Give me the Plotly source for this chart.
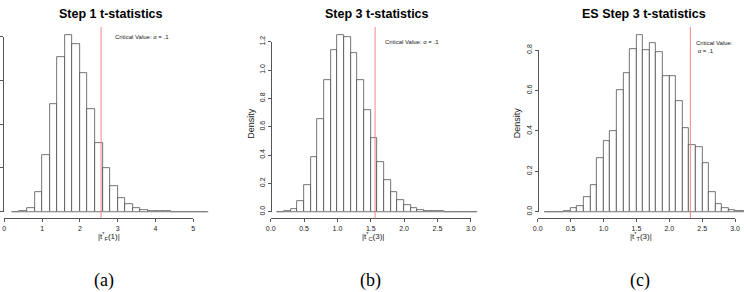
import plotly.graph_objects as go

W, H = 744, 292

# ---------------- data ----------------
# Panel (a) Step 1 t-statistics: density histogram, bins of width 0.2 starting at 0.2
a_bin_start = 0.2
a_bin_width = 0.2
a_density = [0.0, 0.003, 0.018, 0.088, 0.259, 0.491, 0.706, 0.808, 0.768, 0.632,
             0.468, 0.312, 0.198, 0.117, 0.064, 0.035, 0.018, 0.008, 0.003, 0.0015,
             0.001, 0.0005, 0.0003, 0.0, 0.0, 0.0]
a_crit = 2.56
a_xticks = [0, 1, 2, 3, 4, 5]
a_xticklabels = ["0", "1", "2", "3", "4", "5"]
a_yticks = [0, 0.2, 0.4, 0.6, 0.8]
a_yticklabels = ["0.0", "0.2", "0.4", "0.6", "0.8"]

# Panel (b) Step 3 t-statistics: bins of width 0.1 starting at 0.1
b_bin_start = 0.1
b_bin_width = 0.1
b_density = [0.0, 0.004, 0.017, 0.074, 0.187, 0.387, 0.652, 0.93, 1.14, 1.247,
             1.232, 1.118, 0.932, 0.715, 0.518, 0.35, 0.222, 0.137, 0.081, 0.046,
             0.024, 0.012, 0.006, 0.003, 0.002, 0.001, 0.0, 0.0, 0.0, 0.0]
b_crit = 1.565
b_xticks = [0.0, 0.5, 1.0, 1.5, 2.0, 2.5, 3.0]
b_xticklabels = ["0.0", "0.5", "1.0", "1.5", "2.0", "2.5", "3.0"]
b_yticks = [0.0, 0.2, 0.4, 0.6, 0.8, 1.0, 1.2]
b_yticklabels = ["0.0", "0.2", "0.4", "0.6", "0.8", "1.0", "1.2"]

# Panel (c) ES Step 3 t-statistics: bins of width 0.1 starting at 0.1
c_bin_start = 0.1
c_bin_width = 0.1
c_density = [0.0, 0.0, 0.0, 0.003, 0.016, 0.027, 0.071, 0.131, 0.264, 0.352,
             0.402, 0.602, 0.685, 0.807, 0.875, 0.801, 0.837, 0.79, 0.673, 0.671,
             0.547, 0.414, 0.331, 0.318, 0.242, 0.097, 0.038, 0.019, 0.008, 0.005,
             0.002]
c_crit = 2.32
c_xticks = [0.0, 0.5, 1.0, 1.5, 2.0, 2.5, 3.0]
c_xticklabels = ["0.0", "0.5", "1.0", "1.5", "2.0", "2.5", "3.0"]
c_yticks = [0.0, 0.2, 0.4, 0.6, 0.8]
c_yticklabels = ["0.0", "0.2", "0.4", "0.6", "0.8"]

titles = ["Step 1 t-statistics", "Step 3 t-statistics", "ES Step 3 t-statistics"]
xlabels = ["|t<sup>*</sup><sub>F</sub>(1)|", "|t<sup>*</sup><sub>C</sub>(3)|",
           "|t<sup>*</sup><sub>T</sub>(3)|"]
captions = ["(a)", "(b)", "(c)"]
crit_texts = ["Critical Value: \u03b1 = .1", "Critical Value: \u03b1 = .1",
              "Critical Value:<br>\u00a0\u03b1 = .1"]

# ---------------- geometry / style (pixels) ----------------
TOP, BOTTOM = 27.0, 218.3
geo = [
    dict(x0px=4.3, xppu=37.8, y0px=211.7, yppu=218.75, left=3.0, right=218.0,
         title_x=110.6, xlab_x=109, cap_x=104, dens_x=None,
         crit_x=113, crit_y=36.7, show_ylabels=False),
    dict(x0px=270.7, xppu=66.7, y0px=211.7, yppu=141.67, left=271.0, right=482.0,
         title_x=376.7, xlab_x=373, cap_x=370, dens_x=251,
         crit_x=383, crit_y=41.7, show_ylabels=True),
    dict(x0px=537.7, xppu=65.8, y0px=211.7, yppu=202.0, left=537.7, right=744.0,
         title_x=643.5, xlab_x=641, cap_x=640, dens_x=516.7,
         crit_x=694, crit_y=46.5, show_ylabels=True),
]

def fx(px):
    return px / W

def fy(py):
    return 1 - py / H

SANS = "Liberation Sans, Arial, sans-serif"
SERIF = "Liberation Serif, Times New Roman, serif"
BAR_LINE = "#3a3a3a"
BASE_LINE = "#9a9a9a"
AXIS_COL = "#555555"
TEXT_COL = "#1a1a1a"
RED = "rgb(238,120,120)"

panels = [
    (a_bin_start, a_bin_width, a_density, a_crit, a_xticks, a_xticklabels, a_yticks, a_yticklabels),
    (b_bin_start, b_bin_width, b_density, b_crit, b_xticks, b_xticklabels, b_yticks, b_yticklabels),
    (c_bin_start, c_bin_width, c_density, c_crit, c_xticks, c_xticklabels, c_yticks, c_yticklabels),
]

fig = go.Figure()
layout = dict(
    template="none",
    width=W, height=H, margin=dict(l=0, r=0, t=0, b=0),
    paper_bgcolor="white", plot_bgcolor="rgba(0,0,0,0)",
    font=dict(family=SANS, color=TEXT_COL),
    showlegend=False, bargap=0, barmode="overlay",
)
shapes = []
annotations = []

for i, (start, bw, dens, crit, xt, xtl, yt, ytl) in enumerate(panels):
    g = geo[i]
    n = i + 1
    xa = "x" if n == 1 else f"x{n}"
    ya = "y" if n == 1 else f"y{n}"
    xkey = "xaxis" if n == 1 else f"xaxis{n}"
    ykey = "yaxis" if n == 1 else f"yaxis{n}"

    centers = [start + bw * (k + 0.5) for k in range(len(dens))]
    edge_lo = start
    edge_hi = start + bw * len(dens)

    # baseline of the histogram (zero-height bins)
    fig.add_trace(go.Scatter(
        x=[edge_lo, edge_hi], y=[0, 0], mode="lines", xaxis=xa, yaxis=ya,
        line=dict(color=BASE_LINE, width=0.8), hoverinfo="skip",
    ))
    # histogram bars
    fig.add_trace(go.Bar(
        x=centers, y=dens, width=bw, xaxis=xa, yaxis=ya,
        marker=dict(color="white", line=dict(color=BAR_LINE, width=0.7)),
        hoverinfo="skip",
    ))

    xr = [(g["left"] - g["x0px"]) / g["xppu"], (g["right"] - g["x0px"]) / g["xppu"]]
    yr = [(g["y0px"] - BOTTOM) / g["yppu"], (g["y0px"] - TOP) / g["yppu"]]
    layout[xkey] = dict(domain=[fx(g["left"]), fx(g["right"])], range=xr,
                        visible=False, anchor=ya)
    layout[ykey] = dict(domain=[fy(BOTTOM), fy(TOP)], range=yr,
                        visible=False, anchor=xa)

    # tick axes (R-style: axis line spans only first..last tick)
    m = n + 3
    txa, tya = f"x{m}", f"y{m}"
    eps = 1e-6
    layout[f"xaxis{m}"] = dict(
        domain=[fx(g["x0px"] + xt[0] * g["xppu"]), fx(g["x0px"] + xt[-1] * g["xppu"])],
        range=[xt[0] - eps, xt[-1] + eps], anchor="free", position=fy(BOTTOM),
        tickmode="array", tickvals=xt, ticktext=xtl,
        ticks="outside", ticklen=3, tickwidth=0.8, tickcolor=AXIS_COL,
        showline=True, linecolor=AXIS_COL, linewidth=0.8,
        showgrid=False, zeroline=False,
        tickfont=dict(family=SANS, size=7, color=TEXT_COL),
    )
    layout[f"yaxis{m}"] = dict(
        domain=[fy(g["y0px"] - yt[0] * g["yppu"]), fy(g["y0px"] - yt[-1] * g["yppu"])],
        range=[yt[0] - eps, yt[-1] + eps], anchor="free", position=fx(g["left"]),
        tickmode="array", tickvals=yt, ticktext=ytl, tickangle=-90,
        ticks="outside", ticklen=3, tickwidth=0.8, tickcolor=AXIS_COL,
        showline=True, linecolor=AXIS_COL, linewidth=0.8,
        showgrid=False, zeroline=False, showticklabels=g["show_ylabels"],
        tickfont=dict(family=SANS, size=7, color=TEXT_COL),
    )
    fig.add_trace(go.Scatter(x=[None], y=[None], xaxis=txa, yaxis=tya, mode="markers",
                             hoverinfo="skip"))

    # critical value line
    shapes.append(dict(type="line", xref=xa, yref=f"{ya} domain",
                       x0=crit, x1=crit, y0=0, y1=1,
                       line=dict(color=RED, width=0.9)))

    # texts
    annotations.append(dict(text=f"<b>{titles[i]}</b>", xref="paper", yref="paper",
                            x=fx(g["title_x"]), y=fy(14), xanchor="center", yanchor="middle",
                            showarrow=False, font=dict(family=SANS, size=12.5, color="black")))
    annotations.append(dict(text=xlabels[i], xref="paper", yref="paper",
                            x=fx(g["xlab_x"]), y=fy(236.5), xanchor="center", yanchor="middle",
                            showarrow=False, font=dict(family=SANS, size=8, color=TEXT_COL)))
    annotations.append(dict(text=captions[i], xref="paper", yref="paper",
                            x=fx(g["cap_x"]), y=fy(280.5), xanchor="center", yanchor="middle",
                            showarrow=False, font=dict(family=SERIF, size=18, color="black")))
    annotations.append(dict(text=crit_texts[i], xref="paper", yref="paper",
                            x=fx(g["crit_x"]), y=fy(g["crit_y"]), xanchor="left", yanchor="middle",
                            align="left", showarrow=False,
                            font=dict(family=SANS, size=6, color=TEXT_COL)))
    if g["dens_x"] is not None:
        annotations.append(dict(text="Density", xref="paper", yref="paper",
                                x=fx(g["dens_x"]), y=fy((TOP + BOTTOM) / 2),
                                xanchor="center", yanchor="middle", textangle=-90,
                                showarrow=False, font=dict(family=SANS, size=9, color=TEXT_COL)))

layout["shapes"] = shapes
layout["annotations"] = annotations
fig.update_layout(**layout)
fig.write_html("out.html")
